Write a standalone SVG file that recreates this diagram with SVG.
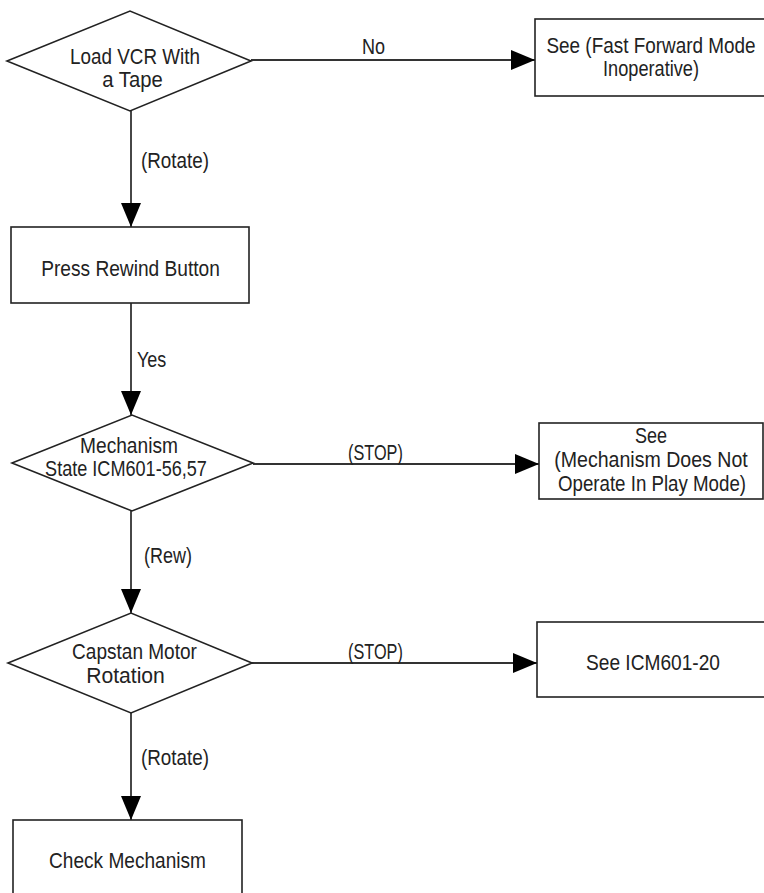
<svg xmlns="http://www.w3.org/2000/svg" width="764" height="893" viewBox="0 0 764 893">
<style>
.n{fill:#fff;stroke:#222;stroke-width:1.6}
.c{fill:none;stroke:#333;stroke-width:1.8}
text{font-family:"Liberation Sans",Arial,sans-serif;font-size:22px;fill:#222}
.m{text-anchor:middle}
</style>
<defs>
<marker id="ah" markerUnits="userSpaceOnUse" markerWidth="26" markerHeight="22" refX="24" refY="10" orient="auto">
<path d="M0,0 L24,10 L0,20 Z" fill="#000"/>
</marker>
</defs>
<rect width="764" height="893" fill="#fff"/>
<g id="connectors">
<line class="c" x1="131" y1="111" x2="131" y2="227" marker-end="url(#ah)"/>
<line class="c" x1="131" y1="303" x2="131" y2="415" marker-end="url(#ah)"/>
<line class="c" x1="131" y1="511" x2="131" y2="613" marker-end="url(#ah)"/>
<line class="c" x1="131" y1="713" x2="131" y2="820" marker-end="url(#ah)"/>
<line class="c" x1="251" y1="60" x2="535" y2="60" marker-end="url(#ah)"/>
<line class="c" x1="253" y1="464" x2="539" y2="464" marker-end="url(#ah)"/>
<line class="c" x1="252" y1="663" x2="537" y2="663" marker-end="url(#ah)"/>
<text transform="translate(362 54) scale(0.82 1)">No</text>
<text transform="translate(141 168) scale(0.856 1)">(Rotate)</text>
<text transform="translate(137 367) scale(0.818 1)">Yes</text>
<text transform="translate(348 460) scale(0.74 1)">(STOP)</text>
<text transform="translate(144 563) scale(0.818 1)">(Rew)</text>
<text transform="translate(348 659) scale(0.74 1)">(STOP)</text>
<text transform="translate(141 765) scale(0.856 1)">(Rotate)</text>
</g>
<g id="load">
<polygon class="n" points="7,61 130,11 251,61 130,111"/>
<text class="m" transform="translate(135 64) scale(0.857 1)">Load VCR With</text>
<text class="m" transform="translate(132.5 87) scale(0.92 1)">a Tape</text>
</g>
<g id="ffmode">
<rect class="n" x="535" y="19" width="235" height="77"/>
<text class="m" transform="translate(651 53) scale(0.86 1)">See (Fast Forward Mode</text>
<text class="m" transform="translate(651 76) scale(0.826 1)">Inoperative)</text>
</g>
<g id="rewind">
<rect class="n" x="11" y="227" width="238" height="76"/>
<text class="m" transform="translate(130.5 276) scale(0.871 1)">Press Rewind Button</text>
</g>
<g id="mechstate">
<polygon class="n" points="12,463 132,415 253,463 132,511"/>
<text class="m" transform="translate(129 453) scale(0.871 1)">Mechanism</text>
<text class="m" transform="translate(126 476) scale(0.823 1)">State ICM601-56,57</text>
</g>
<g id="playmode">
<rect class="n" x="539" y="423" width="224" height="76"/>
<text class="m" transform="translate(651 443) scale(0.82 1)">See</text>
<text class="m" transform="translate(651 467) scale(0.89 1)">(Mechanism Does Not</text>
<text class="m" transform="translate(652 491) scale(0.85 1)">Operate In Play Mode)</text>
</g>
<g id="capstan">
<polygon class="n" points="8,663 131,613 252,663 131,713"/>
<text class="m" transform="translate(134.5 659) scale(0.866 1)">Capstan Motor</text>
<text class="m" transform="translate(125.5 683) scale(0.96 1)">Rotation</text>
</g>
<g id="icm20">
<rect class="n" x="537" y="622" width="235" height="75"/>
<text class="m" transform="translate(653 670) scale(0.87 1)">See ICM601-20</text>
</g>
<g id="check">
<rect class="n" x="13" y="820" width="229" height="80"/>
<text class="m" transform="translate(127.5 868) scale(0.868 1)">Check Mechanism</text>
</g>
</svg>
